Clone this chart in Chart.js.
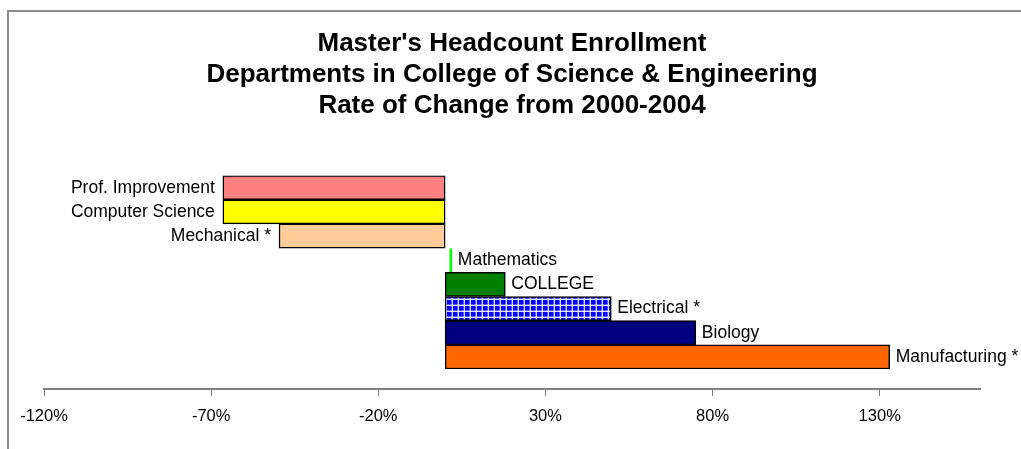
<!DOCTYPE html>
<html>
<head>
<meta charset="utf-8">
<script src="https://cdn.jsdelivr.net/npm/chart.js@4"></script>
<style>
  html, body { margin: 0; padding: 0; background: #fff; overflow: hidden; }
  #frame {
    position: absolute; left: 7px; top: 10px;
    width: 1032px; height: 437px;
    border-left: 2px solid #8c8c8c; border-top: 2px solid #8c8c8c;
  }
</style>
</head>
<body>
<div id="frame"><canvas id="enrollChart" width="1032" height="437"></canvas></div>
<script>
const titleLines = ["Master's Headcount Enrollment", "Departments in College of Science & Engineering", "Rate of Change from 2000-2004"];
const departments = ["Prof. Improvement", "Computer Science", "Mechanical *", "Mathematics", "COLLEGE", "Electrical *", "Biology", "Manufacturing *"];
const changeRates = [-66.5, -66.5, -49.7, 2, 18, 49.7, 75, 133];
const barColors = ["#FF8080", "#FFFF00", "#FFCC99", "rgba(0,0,0,0)", "#008000", "pattern", "#000080", "#FF6600"];
const tickValues = [-120, -70, -20, 30, 80, 130];

// blue with white grid, like the Excel fill
const makeGridPattern = () => {
  const c = document.createElement("canvas");
  c.width = 6;
  c.height = 6;
  const g = c.getContext("2d");
  g.fillStyle = "#0000FF";
  g.fillRect(0, 0, 6, 6);
  g.fillStyle = "rgba(255,255,255,0.35)";
  g.fillRect(4, 0, 2, 6);
  g.fillRect(0, 4, 6, 2);
  g.fillStyle = "rgba(255,255,255,0.8)";
  g.fillRect(5, 0, 1, 6);
  g.fillRect(0, 5, 6, 1);
  return g.createPattern(c, "repeat");
};

const ctx = document.getElementById("enrollChart").getContext("2d");
const gridPattern = makeGridPattern();

const fills = barColors.map((c) => (c === "pattern" ? gridPattern : c));
const borders = departments.map((d) => (d === "Mathematics" ? "#00FF00" : "#000000"));
const borderWidths = departments.map((d) =>
  d === "Mathematics" ? { left: 0, top: 0, bottom: 0, right: 2 } : 1.5
);

const barLabels = {
  id: "barLabels",
  afterDatasetsDraw(chart) {
    const meta = chart.getDatasetMeta(0);
    const c = chart.ctx;
    c.save();
    c.font = "17.5px 'Liberation Sans', Arial, sans-serif";
    c.fillStyle = "#000";
    c.textBaseline = "middle";
    meta.data.forEach((bar, i) => {
      const v = changeRates[i];
      if (v < 0) {
        c.textAlign = "right";
        c.fillText(departments[i], bar.x - 8, bar.y);
      } else {
        c.textAlign = "left";
        c.fillText(departments[i], bar.x + 6, bar.y);
      }
    });
    c.restore();
  },
};

new Chart(ctx, {
  type: "bar",
  data: {
    labels: departments,
    datasets: [
      {
        data: changeRates,
        backgroundColor: fills,
        borderColor: borders,
        borderWidth: borderWidths,
        borderSkipped: false,
        barPercentage: 1,
        categoryPercentage: 1,
      },
    ],
  },
  options: {
    indexAxis: "y",
    responsive: false,
    animation: false,
    layout: { padding: { left: 35, right: 61, top: 0, bottom: 80 } },
    plugins: {
      legend: { display: false },
      tooltip: { enabled: false },
      title: {
        display: true,
        text: titleLines,
        color: "#000",
        font: { family: "'Liberation Sans', Arial, sans-serif", size: 26, weight: "bold", lineHeight: 1.2 },
        padding: { top: 16, bottom: 54 },
      },
    },
    scales: {
      x: {
        type: "linear",
        min: -120,
        max: 160,
        position: { y: 8.33 },
        afterBuildTicks: (scale) => {
          scale.ticks = tickValues.map((v) => ({ value: v }));
        },
        grid: { drawOnChartArea: false, drawTicks: true, tickLength: 6, color: "#808080" },
        border: { display: true, color: "#808080", width: 2 },
        ticks: {
          color: "#000",
          padding: 11,
          maxRotation: 0,
          font: { family: "'Liberation Sans', Arial, sans-serif", size: 16.5 },
          callback: (v) => v + "%",
        },
      },
      y: {
        type: "category",
        display: false,
        offset: true,
        grid: { display: false },
      },
    },
  },
  plugins: [barLabels],
});
</script>
</body>
</html>
